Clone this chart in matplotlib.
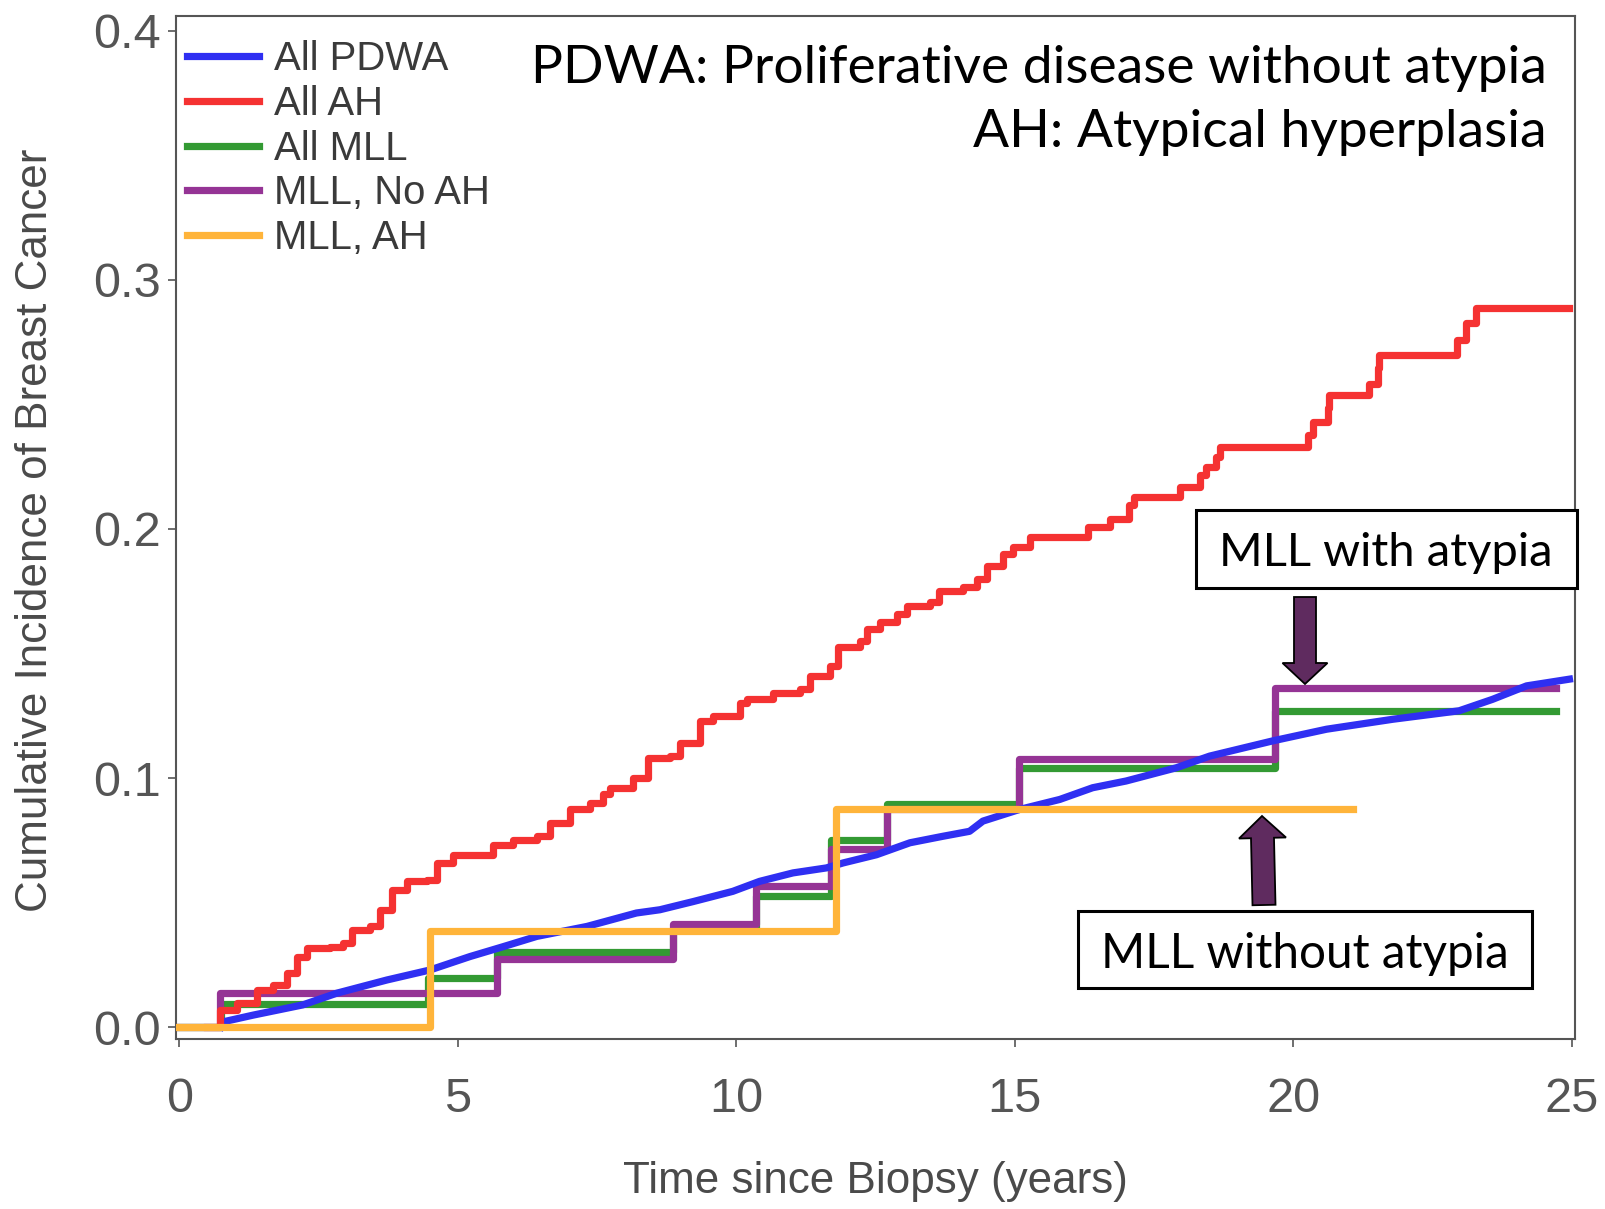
import matplotlib
matplotlib.use("Agg")
import matplotlib.pyplot as plt
import matplotlib.patches as mpatches
from matplotlib import font_manager

# ---------------- data ----------------
series_labels = ["All PDWA", "All AH", "All MLL", "MLL, No AH", "MLL, AH"]

pdwa_t = [0.75, 0.79, 1.33, 2.22, 2.83, 3.73, 4.50, 5.22, 5.82, 6.42, 7.32, 8.21,
          8.63, 9.23, 9.94, 10.42, 11.02, 11.62, 11.92, 12.52, 13.12, 13.71, 14.19,
          14.43, 15.09, 15.81, 16.40, 17.00, 17.90, 18.50, 19.63, 20.60, 21.79,
          22.98, 23.58, 24.19, 24.96]
pdwa_v = [0.0, 0.0021, 0.0048, 0.0089, 0.0136, 0.0189, 0.0229, 0.0283, 0.0323,
          0.0364, 0.0404, 0.0458, 0.0471, 0.0504, 0.0545, 0.0585, 0.0619, 0.0639,
          0.0659, 0.0692, 0.0740, 0.0766, 0.0786, 0.0827, 0.0874, 0.0914, 0.0961,
          0.0988, 0.1041, 0.1088, 0.1149, 0.1196, 0.1236, 0.1270, 0.1316, 0.1370,
          0.1397]

ah_t = [0.50, 0.73, 1.04, 1.39, 1.69, 1.93, 2.11, 2.29, 2.71, 2.94, 3.10, 3.42,
        3.60, 3.82, 4.09, 4.45, 4.63, 4.92, 5.64, 6.00, 6.42, 6.65, 7.01, 7.37,
        7.61, 7.73, 8.15, 8.41, 8.81, 8.99, 9.35, 9.58, 10.06, 10.19, 10.66, 11.14,
        11.32, 11.68, 11.82, 12.22, 12.34, 12.58, 12.88, 13.06, 13.48, 13.65, 14.07,
        14.32, 14.50, 14.79, 14.97, 15.27, 16.31, 16.71, 17.06, 17.15, 17.96, 18.32,
        18.44, 18.62, 18.68, 20.26, 20.35, 20.62, 20.65, 21.37, 21.52, 21.55, 22.95,
        23.11, 23.29, 24.96]
ah_v = [0.0, 0.0068, 0.0097, 0.0149, 0.0169, 0.0217, 0.0283, 0.0317, 0.0323, 0.0337,
        0.0390, 0.0404, 0.0471, 0.0552, 0.0585, 0.0592, 0.0659, 0.0692, 0.0733, 0.0753,
        0.0766, 0.0820, 0.0874, 0.0901, 0.0935, 0.0961, 0.1001, 0.1082, 0.1088, 0.1142,
        0.1229, 0.1249, 0.1303, 0.1316, 0.1343, 0.1357, 0.1410, 0.1450, 0.1525, 0.1551,
        0.1598, 0.1625, 0.1659, 0.1692, 0.1706, 0.1752, 0.1766, 0.1800, 0.1853, 0.1900,
        0.1927, 0.1967, 0.2007, 0.2041, 0.2095, 0.2128, 0.2169, 0.2215, 0.2249, 0.2290,
        0.2329, 0.2376, 0.2430, 0.2484, 0.2537, 0.2584, 0.2645, 0.2699, 0.2759, 0.2826,
        0.2886, 0.2886]

mll_t = [0.0, 0.75, 4.47, 5.70, 8.86, 10.36, 11.71, 12.70, 15.08, 19.67, 24.72]
mll_v = [0.0, 0.0091, 0.0196, 0.0303, 0.0390, 0.0527, 0.0753, 0.0894, 0.1041, 0.1269, 0.1269]

mll_noah_t = [0.0, 0.74, 5.70, 8.86, 10.36, 11.71, 12.70, 15.08, 19.67, 24.72]
mll_noah_v = [0.0, 0.0136, 0.0275, 0.0415, 0.0565, 0.0713, 0.0876, 0.1075, 0.1363, 0.1363]

mll_ah_t = [0.0, 4.50, 11.80, 21.07]
mll_ah_v = [0.0, 0.0386, 0.0876, 0.0876]

x_ticks = [0, 5, 10, 15, 20, 25]
y_ticks = [0.0, 0.1, 0.2, 0.3, 0.4]
y_tick_labels = ["0.0", "0.1", "0.2", "0.3", "0.4"]

x_title = "Time since Biopsy (years)"
y_title = "Cumulative Incidence of Breast Cancer"
note_lines = ["PDWA: Proliferative disease without atypia", "AH: Atypical hyperplasia"]
box_with = "MLL with atypia"
box_without = "MLL without atypia"

# ---------------- style ----------------
W, H, DPI = 1606, 1209, 100
C_BLUE, C_RED, C_GREEN, C_PURPLE, C_ORANGE = "#2f2ff2", "#f53232", "#339a33", "#953495", "#ffb43a"
ARROW_C = "#5f2b5f"
GREY = "#555555"

names = {f.name for f in font_manager.fontManager.ttflist}
LAB_FONT = "Liberation Sans Narrow" if "Liberation Sans Narrow" in names else "Liberation Sans"
TICK_FONT = "Liberation Sans"
ANN_FONT = "Lato" if "Lato" in names else "DejaVu Sans"

fig = plt.figure(figsize=(W / DPI, H / DPI), dpi=DPI)
fig.patch.set_facecolor("white")
L, R, T, B = 176, 1575, 16, 1039
ax = fig.add_axes([L / W, 1 - B / H, (R - L) / W, (B - T) / H])
renderer = fig.canvas.get_renderer()


def fit(txt, target_px):
    bb = txt.get_window_extent(renderer=renderer)
    size = max(bb.width, bb.height)
    txt.set_fontsize(txt.get_fontsize() * target_px / size)


def fig_xy(x, y):
    return x / W, 1 - y / H


LW = 5.2
l_green, = ax.step(mll_t, mll_v, where="post", color=C_GREEN, lw=LW, zorder=2)
l_purple, = ax.step(mll_noah_t, mll_noah_v, where="post", color=C_PURPLE, lw=LW, zorder=3)
l_blue, = ax.plot(pdwa_t, pdwa_v, color=C_BLUE, lw=LW, zorder=4)
l_red, = ax.step(ah_t, ah_v, where="post", color=C_RED, lw=LW, zorder=5)
l_orange, = ax.step(mll_ah_t, mll_ah_v, where="post", color=C_ORANGE, lw=LW, zorder=6)

ax.set_xlim(-0.057, 25.06)
ax.set_ylim(-0.0048, 0.406)
ax.set_xticks(x_ticks)
ax.set_xticklabels([str(v) for v in x_ticks])
ax.set_yticks(y_ticks)
ax.set_yticklabels(y_tick_labels)
for s in ax.spines.values():
    s.set_color(GREY)
    s.set_linewidth(1.5)
ax.tick_params(axis="both", direction="out", length=6, width=1.2, color=GREY,
               labelcolor=GREY, labelsize=35)
ax.tick_params(axis="x", pad=21)
ax.tick_params(axis="y", pad=5)
for lab in ax.get_xticklabels() + ax.get_yticklabels():
    lab.set_fontfamily(TICK_FONT)

xl = ax.set_xlabel(x_title, fontsize=35, family=LAB_FONT, color="#4a4a4a", va="center")
ax.xaxis.set_label_coords(0.5, (B - 1182) / (B - T))
yl = ax.set_ylabel(y_title, fontsize=35, family=LAB_FONT, color="#4a4a4a", va="center")
ax.yaxis.set_label_coords((36 - L) / (R - L), 1 - (530 - T) / (B - T))
fit(xl, 505)
fit(yl, 763)

# legend font size fitted to the reference width of "All PDWA"
probe = fig.text(0, 0, "All PDWA", fontsize=30, family=LAB_FONT)
fit(probe, 174)
LEG_FS = probe.get_fontsize()
probe.remove()
fs_px = LEG_FS * DPI / 72
leg = ax.legend([l_blue, l_red, l_green, l_purple, l_orange], series_labels,
                loc="upper left", bbox_to_anchor=((187 - L) / (R - L), 1 - (40 - T) / (B - T)),
                frameon=False, borderpad=0, borderaxespad=0,
                prop={"family": LAB_FONT, "size": LEG_FS},
                handlelength=72 / fs_px, handletextpad=15 / fs_px, labelspacing=0.17)
for t in leg.get_texts():
    t.set_color("#3a3a3a")
for h in leg.get_lines():
    h.set_linewidth(LW)

# notes at top right
n1 = fig.text(*fig_xy(1547, 68), note_lines[0], ha="right", va="center",
              family=ANN_FONT, fontsize=34, color="black")
fit(n1, 1019)
n2 = fig.text(*fig_xy(1547, 133), note_lines[1], ha="right", va="center",
              family=ANN_FONT, fontsize=n1.get_fontsize(), color="black")

# annotation boxes
for (x0, y0, x1, y1), (cx, cy), txt, wpx in [
        ((1196, 510, 1577, 588), (1386, 553), box_with, 333),
        ((1078, 911, 1532, 988), (1305, 954), box_without, 407)]:
    rect = mpatches.Rectangle(fig_xy(x0, y1), (x1 - x0) / W, (y1 - y0) / H,
                              transform=fig.transFigure, facecolor="white",
                              edgecolor="black", lw=2.2, zorder=10)
    fig.add_artist(rect)
    t = fig.text(*fig_xy(cx, cy), txt, ha="center", va="center", family=ANN_FONT,
                 fontsize=30, color="black", zorder=11)
    fit(t, wpx)

# arrows (in inches, via dpi_scale_trans)
def arrow(xt, yt, xh, yh, width, hw, hl):
    a = mpatches.FancyArrow(xt / DPI, (H - yt) / DPI, (xh - xt) / DPI, (yt - yh) / DPI,
                            width=width / DPI, head_width=hw / DPI, head_length=hl / DPI,
                            length_includes_head=True, transform=fig.dpi_scale_trans,
                            facecolor=ARROW_C, edgecolor="black", lw=1.3, zorder=12)
    fig.add_artist(a)

arrow(1305, 597, 1305, 684, 22, 45, 21)
arrow(1264, 905, 1262, 816, 23, 47, 22)

fig.savefig("out.png", dpi=DPI, facecolor="white")
